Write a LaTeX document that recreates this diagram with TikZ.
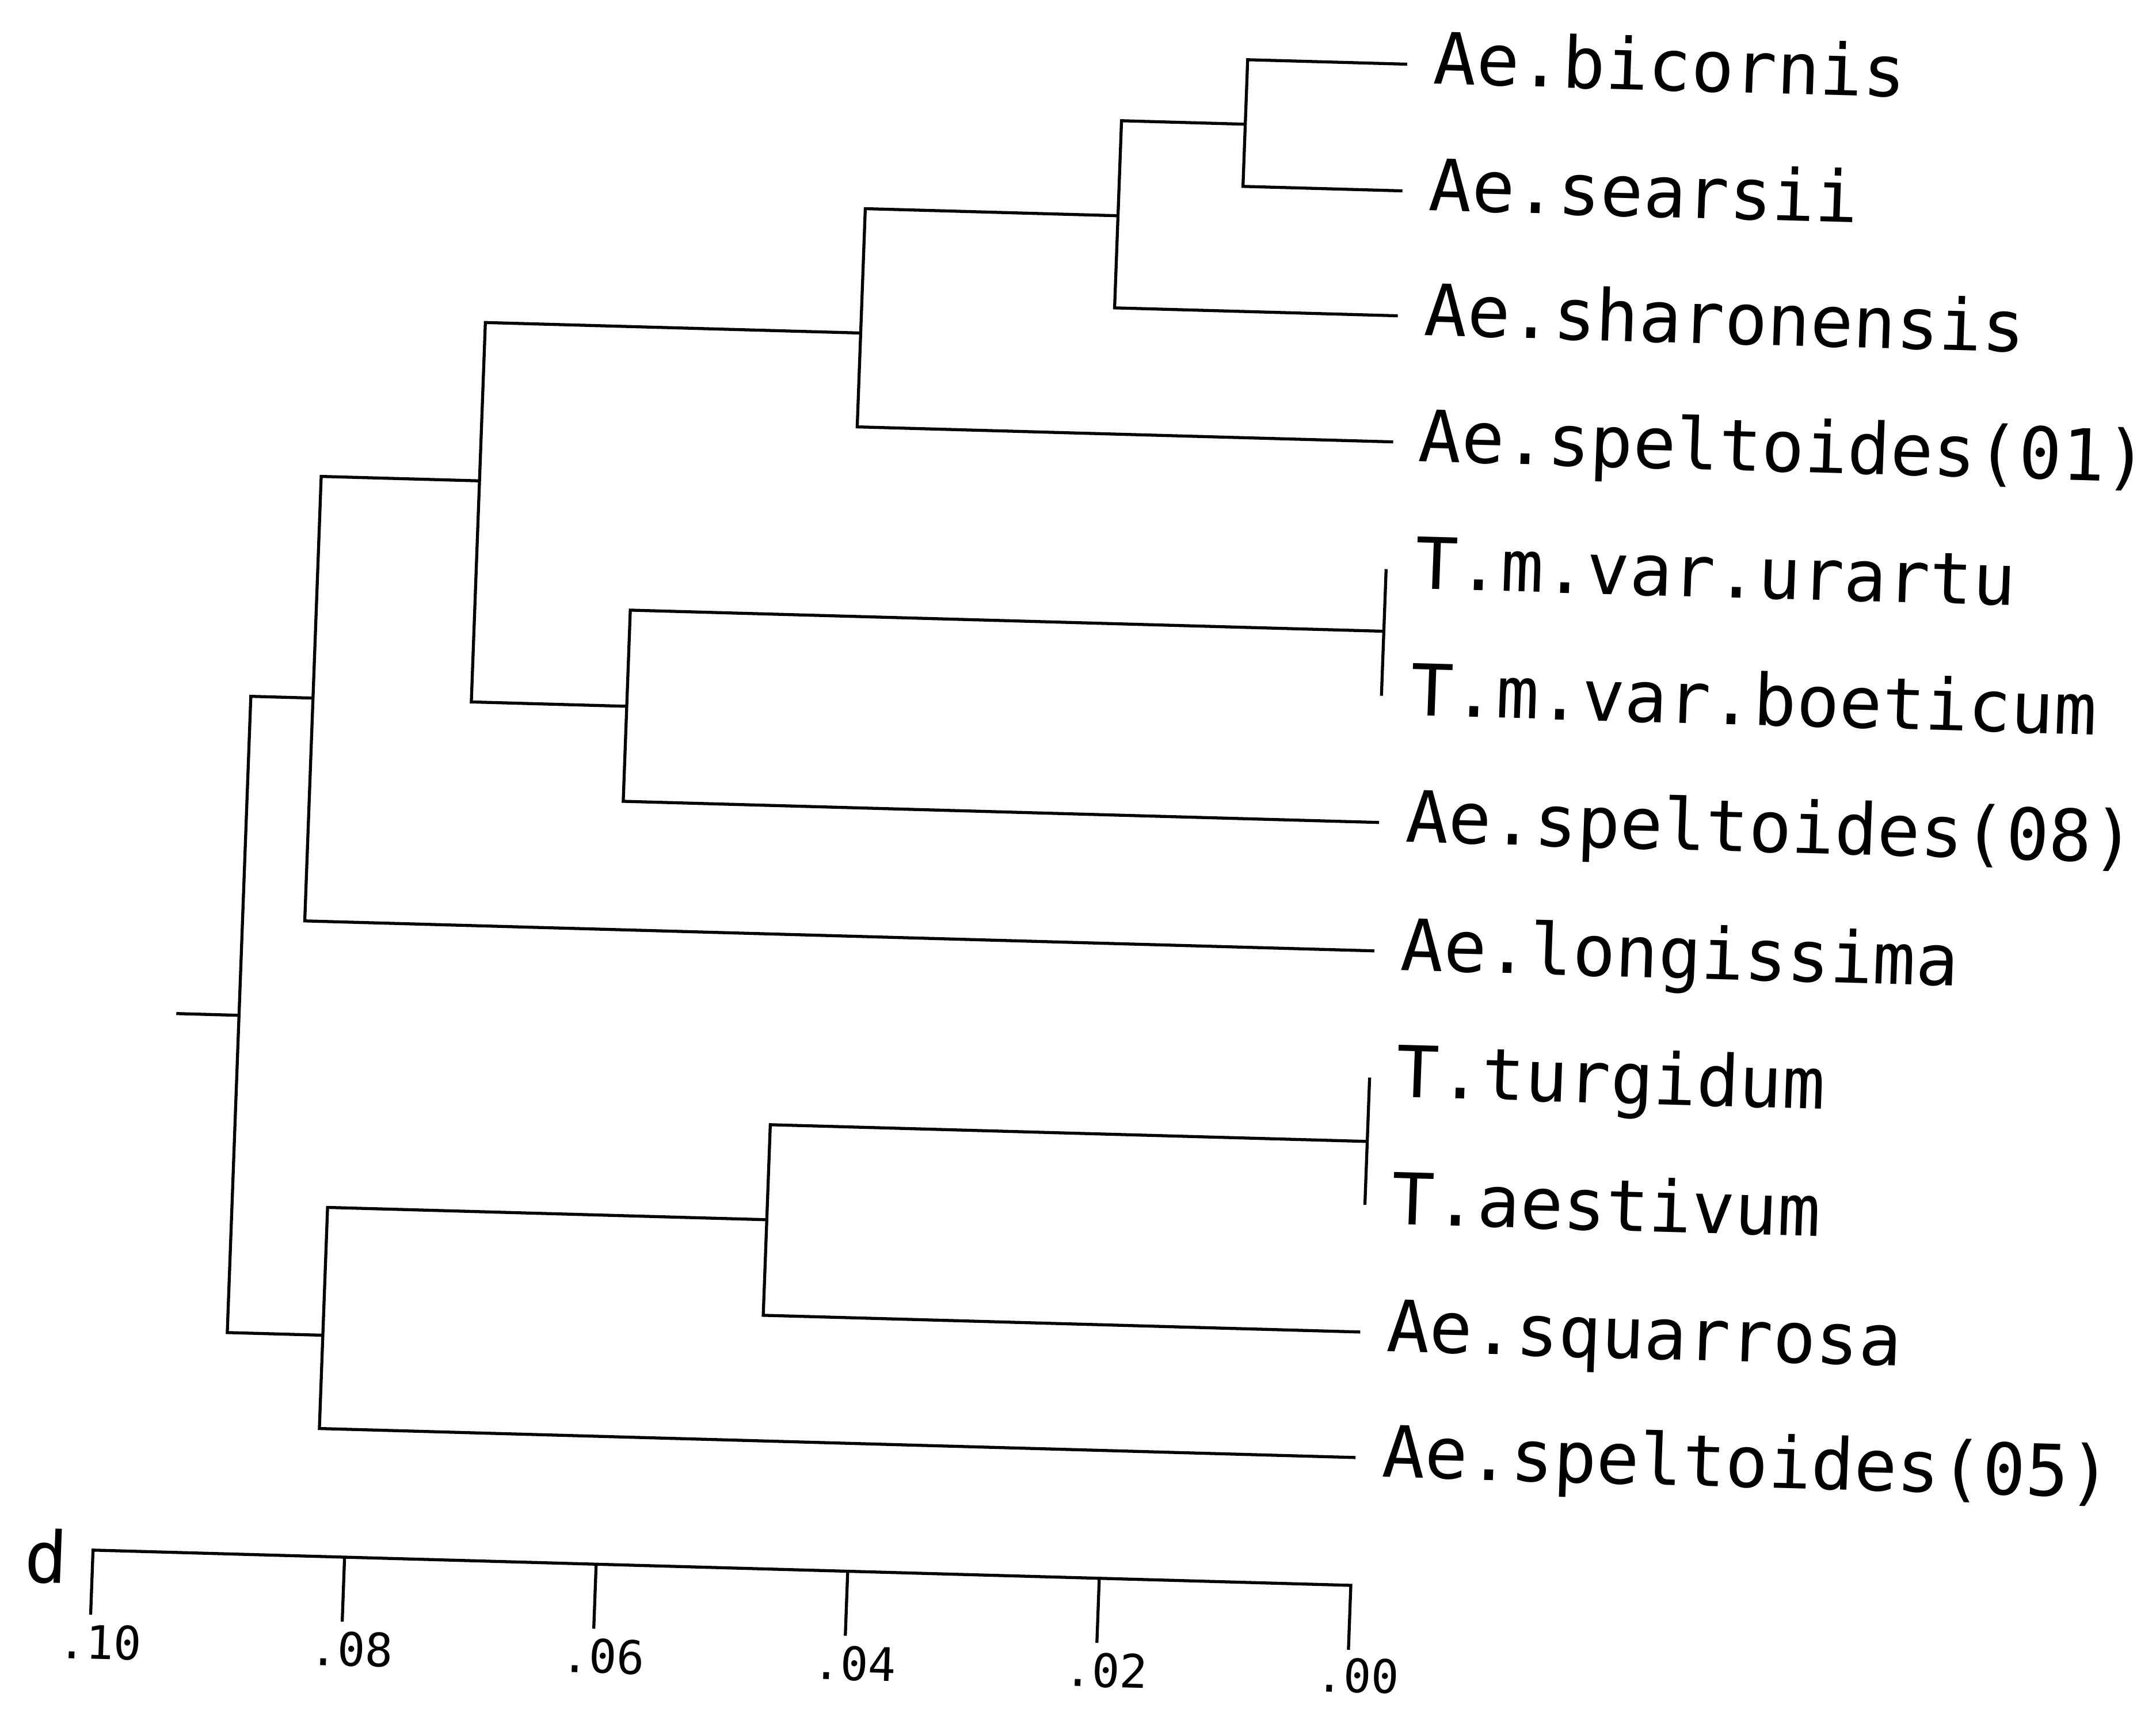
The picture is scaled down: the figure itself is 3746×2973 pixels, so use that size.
\documentclass[tikz,border=0pt]{standalone}
\usepackage{fontspec}
\setmonofont{DejaVu Sans Mono}
\begin{document}
\begin{tikzpicture}[x=0.01cm,y=0.01cm,line join=miter]
\tikzset{
  branch/.style={line width=1.5pt},
  leaflabel/.style={anchor=base west,inner sep=0pt,font=\ttfamily\fontsize{35.2}{40}\selectfont},
  ticklabel/.style={anchor=center,inner sep=0pt,font=\ttfamily\fontsize{22.8}{26}\selectfont},
  axislabel/.style={anchor=center,inner sep=0pt,font=\ttfamily\fontsize{35.2}{40}\selectfont}
}
\fill[white] (0,0) rectangle (3746,-2973);
\useasboundingbox (0,0) rectangle (3746,-2973);
\begin{scope}[cm={1,-0.028,0.037,1,(0,0)},transform shape]
% leaf ends
\coordinate (l0) at (2446,-43);
\coordinate (l1) at (2446,-263);
\coordinate (l2) at (2446,-480);
\coordinate (l3) at (2446,-699);
\coordinate (l4) at (2442,-920);
\coordinate (l5) at (2442,-1140);
\coordinate (l6) at (2446,-1360);
\coordinate (l7) at (2446,-1583);
\coordinate (l8) at (2446,-1803);
\coordinate (l9) at (2446,-2024);
\coordinate (l10) at (2446,-2245);
\coordinate (l11) at (2446,-2463);
% internal junctions
\coordinate (n1) at (2169,-155);
\coordinate (n2) at (1954,-320);
\coordinate (n3) at (1515,-536);
\coordinate (nU) at (2442,-1028);
\coordinate (n6) at (1133,-1195);
\coordinate (n4) at (863,-811);
\coordinate (n5) at (588,-1196);
\coordinate (nT) at (2446,-1914);
\coordinate (n8) at (1409,-2079);
\coordinate (n7) at (646,-2301);
\coordinate (root) at (480,-1750);
\coordinate (stub) at (371,-1750);
% branches
\draw[branch] (l0) -| (n1) |- (l1);
\draw[branch] (n1) -| (n2) |- (l2);
\draw[branch] (n2) -| (n3) |- (l3);
\draw[branch] (l4) -- (l5);
\draw[branch] (nU) -| (n6) |- (l6);
\draw[branch] (n3) -| (n4) |- (n6);
\draw[branch] (n4) -| (n5) |- (l7);
\draw[branch] (l8) -- (l9);
\draw[branch] (nT) -| (n8) |- (l10);
\draw[branch] (n8) -| (n7) |- (l11);
\draw[branch] (n5) -| (root) |- (n7);
\draw[branch] (stub) -- (root);
% leaf labels
\node[leaflabel] (t0) at (2492,-76) {Ae.bicornis};
\node[leaflabel] (t1) at (2492,-296) {Ae.searsii};
\node[leaflabel] (t2) at (2492,-513) {Ae.sharonensis};
\node[leaflabel] (t3) at (2490,-732) {Ae.speltoides(01)};
\node[leaflabel] (t4) at (2492,-953) {T.m.var.urartu};
\node[leaflabel] (t5) at (2492,-1173) {T.m.var.boeticum};
\node[leaflabel] (t6) at (2492,-1393) {Ae.speltoides(08)};
\node[leaflabel] (t7) at (2492,-1616) {Ae.longissima};
\node[leaflabel] (t8) at (2492,-1836) {T.turgidum};
\node[leaflabel] (t9) at (2492,-2057) {T.aestivum};
\node[leaflabel] (t10) at (2492,-2278) {Ae.squarrosa};
\node[leaflabel] (t11) at (2492,-2496) {Ae.speltoides(05)};
% scale bar
\coordinate (a0) at (261,-2685);
\coordinate (a1) at (698,-2685);
\coordinate (a2) at (1135,-2685);
\coordinate (a3) at (1572,-2685);
\coordinate (a4) at (2009,-2685);
\coordinate (a5) at (2446,-2685);
\coordinate (b0) at (261,-2797);
\coordinate (b1) at (698,-2797);
\coordinate (b2) at (1135,-2797);
\coordinate (b3) at (1572,-2797);
\coordinate (b4) at (2009,-2797);
\coordinate (b5) at (2446,-2797);
\draw[branch] (b0) -- (a0) -- (a5) -- (b5);
\draw[branch] (a1) -- (b1);
\draw[branch] (a2) -- (b2);
\draw[branch] (a3) -- (b3);
\draw[branch] (a4) -- (b4);
\node[axislabel] (dlab) at (180,-2698) {d};
\node[ticklabel] (s0) at (279,-2845) {.10};
\node[ticklabel] (s1) at (716,-2845) {.08};
\node[ticklabel] (s2) at (1153,-2845) {.06};
\node[ticklabel] (s3) at (1590,-2845) {.04};
\node[ticklabel] (s4) at (2027,-2845) {.02};
\node[ticklabel] (s5) at (2464,-2842) {.00};
\end{scope}
\end{tikzpicture}
\end{document}
